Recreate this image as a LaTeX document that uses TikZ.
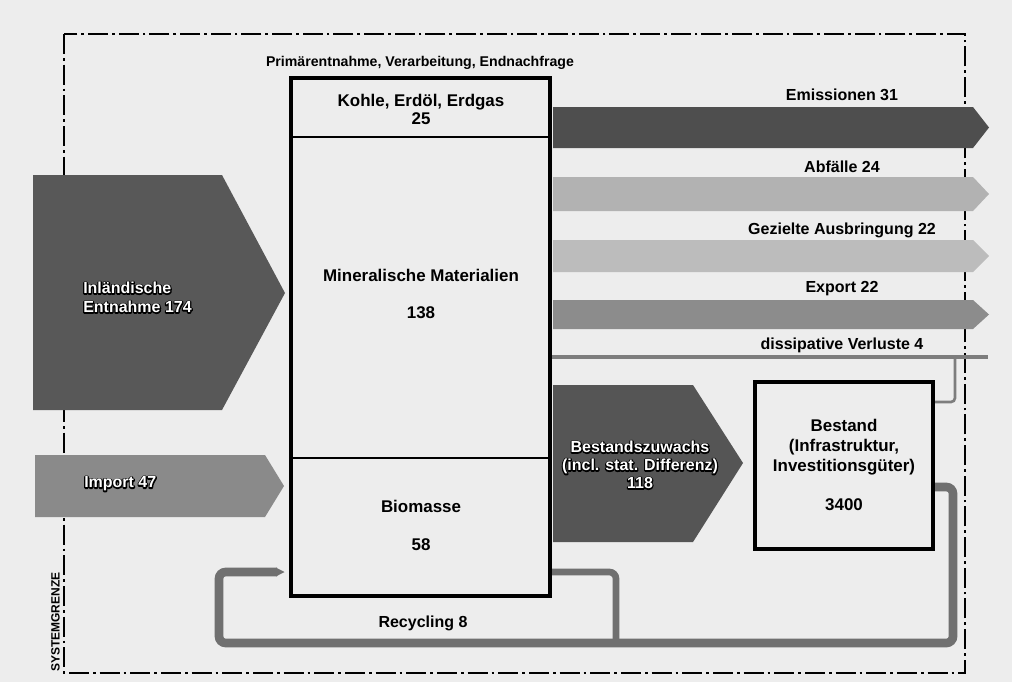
\documentclass[tikz,border=0pt]{standalone}
\usepackage{fontspec}
\setmainfont{Liberation Sans}
\definecolor{bg}{RGB}{237,237,237}
\definecolor{cEm}{RGB}{78,78,78}
\definecolor{cAb}{RGB}{178,178,178}
\definecolor{cGe}{RGB}{188,188,188}
\definecolor{cEx}{RGB}{140,140,140}
\definecolor{cIn}{RGB}{88,88,88}
\definecolor{cIm}{RGB}{138,138,138}
\definecolor{cBz}{RGB}{85,85,85}
\definecolor{cRe}{RGB}{112,112,112}
\definecolor{cDi}{RGB}{125,125,125}
\newcommand\olt[1]{\rlap{\special{pdf:literal direct 1 Tr 1.8 w 1 j 0 0 0 RG}#1\special{pdf:literal direct 0 Tr}}#1}
\begin{document}
\begin{tikzpicture}[x=0.75pt,y=-0.75pt,
  font=\fontsize{12}{14.25}\selectfont\bfseries,
  txt/.style={inner sep=0pt, align=center},
  boxtxt/.style={inner sep=0pt, align=center, font=\fontsize{12.7}{15}\selectfont\bfseries},
  inl/.style={inner sep=0pt, align=left, anchor=west, text=white},
  inc/.style={inner sep=0pt, align=center, text=white, font=\fontsize{12}{13.5}\selectfont\bfseries},
  sysb/.style={line width=1.5pt, dash pattern=on 15pt off 3pt on 2pt off 3pt},
  frame/.style={line width=2.6pt},
  divider/.style={line width=1.5pt},
  band/.style={line width=6.5pt, rounded corners=5},
]
\fill[bg] (0,0) rectangle (1012,682);
\useasboundingbox (0,0) rectangle (1012,682);

% system boundary
\draw[sysb] (64,34) rectangle (965,673);
\node[txt, rotate=90, anchor=south west, font=\fontsize{9}{10}\selectfont\bfseries] (sys) at (60,672) {SYSTEMGRENZE};

% input arrows
\fill[cIn] (33,175) -- (222,175) -- (285,293) -- (222,410) -- (33,410) -- cycle;
\fill[cIm] (35,455) -- (265,455) -- (284,486) -- (265,517) -- (35,517) -- cycle;

% output arrows
\fill[cEm] (553,107) -- (973,107) -- (989,127.5) -- (973,148) -- (553,148) -- cycle;
\fill[cAb] (553,177) -- (973,177) -- (989,194) -- (973,211) -- (553,211) -- cycle;
\fill[cGe] (553,240) -- (973,240) -- (989,256) -- (973,272) -- (553,272) -- cycle;
\fill[cEx] (553,300) -- (973,300) -- (989,314.5) -- (973,329) -- (553,329) -- cycle;
\fill[cBz] (553,385) -- (693,385) -- (743,463) -- (693,542) -- (553,542) -- cycle;

% dissipative losses
\draw[cDi, line width=3pt] (551,357) -- (988,357);
\draw[cDi, line width=2pt, rounded corners=3] (933,402) -- (955,402) -- (955,357);

% recycling
\draw[cRe, band] (933,487) -- (953,487) -- (953,643) -- (219,643) -- (219,572) -- (277,572);
\fill[cRe] (276,567.6) -- (284.5,572) -- (276,576.4) -- cycle;
\draw[cRe, line width=5pt, rounded corners=5] (551,572) -- (616,572) -- (616,643);

% main box
\draw[frame] (291,78) rectangle (550,596);
\draw[divider] (291,137) -- (550,137);
\draw[divider] (291,458) -- (550,458);

% stock box
\draw[frame] (755,382) rectangle (933,549);

% texts
\node[txt, font=\fontsize{10.6}{12}\selectfont\bfseries] (head) at (420,63) {Primärentnahme, Verarbeitung, Endnachfrage};
\node[boxtxt, font=\fontsize{12.7}{13.5}\selectfont\bfseries] (kohle) at (421,109) {Kohle, Erdöl, Erdgas\\25};
\node[boxtxt] (mineral) at (421,275) {Mineralische Materialien};
\node[boxtxt] (mineralv) at (421,313) {138};
\node[boxtxt] (bio) at (421,506) {Biomasse};
\node[boxtxt] (biov) at (421,545) {58};

\node[boxtxt] (bestand) at (844,447) {Bestand\\(Infrastruktur,\\Investitionsgüter)};
\node[boxtxt] (bestandv) at (844,505) {3400};

\node[txt] (em) at (842,95) {Emissionen 31};
\node[txt] (ab) at (842,167) {Abfälle 24};
\node[txt] (ge) at (842,230) {Gezielte Ausbringung 22};
\node[txt] (ex) at (842,289) {Export 22};
\node[txt] (di) at (842,345) {dissipative Verluste 4};
\node[txt] (re) at (423,623) {Recycling 8};

\node[inl] (inland) at (83,297.5) {\olt{Inländische}\\\olt{Entnahme 174}};
\node[inl] (import) at (84,484) {\olt{Import 47}};
\node[inc] (zuwachs) at (640,465) {\olt{Bestandszuwachs}\\\olt{(incl. stat. Differenz)}\\\olt{118}};
\end{tikzpicture}
\end{document}
